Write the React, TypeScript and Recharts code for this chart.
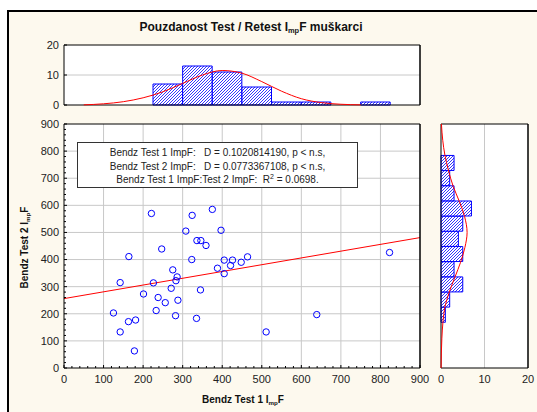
import React from 'react'
import { ComposedChart, LineChart, ScatterChart, Line, Bar, Scatter, XAxis, YAxis, CartesianGrid, ReferenceLine } from 'recharts'

// scatter: Test 1 (x) vs Test 2 (y)
const PTS_X = [221, 375, 324, 308, 397, 336, 346, 359, 247, 164, 323, 405, 426, 464, 448, 421, 388, 405, 275, 286, 283, 226, 142, 271, 345, 201, 238, 288, 256, 233, 125, 282, 335, 181, 163, 142, 511, 639, 178, 823]
const PTS_Y = [570, 585, 563, 505, 508, 470, 470, 452, 439, 411, 400, 398, 398, 410, 390, 378, 368, 348, 362, 336, 322, 314, 315, 294, 288, 273, 260, 250, 241, 212, 203, 193, 183, 177, 171, 133, 133, 197, 63, 426]

// regression line ends
const REG_X = [0, 900]
const REG_Y = [256, 481]

// top histogram (Test 1)
const TOP_MID = [262.5, 337.5, 412.5, 487.5, 562.5, 637.5, 712.5, 787.5]
const TOP_COUNT = [7, 13, 11, 6, 1, 1, 0, 1]
const TOP_FIT_X = [50, 100, 150, 200, 250, 300, 350, 400, 450, 500, 550, 600, 650, 700, 750]
const TOP_FIT_V = [0.05, 0.4, 1.1, 2.4, 4.4, 7.2, 10.0, 11.5, 10.6, 7.8, 4.6, 2.1, 0.8, 0.25, 0.05]

// right histogram (Test 2)
const RIGHT_MID = [196, 252, 308, 364, 420, 476, 532, 588, 644, 700, 756]
const RIGHT_COUNT = [1, 2, 5, 3, 5, 4, 5, 7, 3, 2, 3]
const RIGHT_FIT_Y = [0, 110, 170, 225, 280, 335, 390, 445, 500, 560, 615, 670, 730, 785, 840, 900]
const RIGHT_FIT_V = [0.02, 0.2, 0.45, 0.9, 1.9, 3.2, 4.5, 5.5, 6.0, 5.4, 4.2, 2.8, 1.7, 0.9, 0.4, 0.1]

const AXIS_LABELS = [0, 100, 200, 300, 400, 500, 600, 700, 800, 900]
const GRID = [100, 200, 300, 400, 500, 600, 700, 800]
const MINOR = AXIS_LABELS.flatMap((v, i) => (i === 0 ? [v] : [v - 80, v - 60, v - 40, v - 20, v]))
const TOP_TICKS = [150, 300, 450, 600, 750]
const RIGHT_TICKS = [112, 224, 336, 448, 560, 672, 784]
const COUNT_LABELS = [0, 10, 20]

const points = PTS_X.map((x, i) => ({ x, y: PTS_Y[i] }))
const topData = TOP_MID.map((mid, i) => ({ mid, count: TOP_COUNT[i] }))
const topFit = TOP_FIT_X.map((x, i) => ({ x, v: TOP_FIT_V[i] }))
const rightData = RIGHT_MID.map((mid, i) => ({ mid, count: RIGHT_COUNT[i] }))
const rightFit = RIGHT_FIT_Y.map((y, i) => ({ y, v: RIGHT_FIT_V[i] }))

const FONT = '"Liberation Sans", Arial, Helvetica, sans-serif'
const INK = '#222'
const BG = '#fdf9ee'
const BLUE = '#0000ff'
const RED = '#ff0000'

// ticks drawn inward from the frame, labels outside
function edgeTick(side: string, gap: number, labels: number[], lines = true) {
  return (p: any) => {
    const v = p.payload.value
    const lab = labels.includes(v)
    const len = lab ? 3 : 2
    let ln = null
    if (lines) {
      if (side === 'bottom') ln = <line x1={p.x} x2={p.x} y1={p.y - gap} y2={p.y - gap - len} />
      if (side === 'top') ln = <line x1={p.x} x2={p.x} y1={p.y + gap} y2={p.y + gap + len} />
      if (side === 'left') ln = <line x1={p.x + gap} x2={p.x + gap + len} y1={p.y} y2={p.y} />
      if (side === 'right') ln = <line x1={p.x - gap} x2={p.x - gap - len} y1={p.y} y2={p.y} />
    }
    return (
      <g>
        {ln && React.cloneElement(ln, { stroke: '#000', strokeWidth: 1 })}
        {lab && (side === 'bottom' || side === 'left') && (
          <text
            x={p.x}
            y={p.y}
            dy={side === 'bottom' ? '0.71em' : '0.35em'}
            textAnchor={side === 'bottom' ? 'middle' : 'end'}
            fontSize={11}
            fontFamily={FONT}
            fill={INK}
          >
            {v}
          </text>
        )}
      </g>
    )
  }
}

const Hatch = ({ id }: { id: string }) => (
  <defs>
    <pattern id={id} width="3" height="3" patternUnits="userSpaceOnUse">
      <rect width="3" height="3" fill="#fff" />
      <path d="M-1,1 l2,-2 M0,3 l3,-3 M2,4 l2,-2" stroke={BLUE} strokeWidth="0.8" />
    </pattern>
  </defs>
)

const Ring = (p: any) => <circle cx={p.cx} cy={p.cy} r={3.2} fill="none" stroke={BLUE} strokeWidth={1} />

const Sub = ({ children }: { children: React.ReactNode }) => (
  <span style={{ fontSize: '0.62em', position: 'relative', top: '0.3em' }}>{children}</span>
)

// plot-area insets; axes are 1px thick, so charts with axes get 1px less margin on each side
const MAIN_M = { top: 13, right: 9, bottom: 43, left: 63 }
const TOP_PLOT = { top: 15, right: 10, bottom: 15, left: 64 }
const TOP_M = { top: 14, right: 9, bottom: 14, left: 63 }
const RIGHT_PLOT = { top: 14, right: 9, bottom: 44, left: 11 }
const RIGHT_M = { top: 13, right: 8, bottom: 43, left: 10 }

export default function App() {
  const abs = (left: number, top: number): React.CSSProperties => ({ position: 'absolute', left, top })
  return (
    <div style={{ position: 'absolute', left: 0, top: 0, width: 537, height: 412, overflow: 'hidden', background: '#fff', fontFamily: FONT }}>
      <div style={{ position: 'absolute', left: 7, top: 10, width: 530, height: 402, boxSizing: 'border-box', borderLeft: '2px solid #000', borderTop: '2px solid #000', background: BG }} />

      <div style={{ position: 'absolute', left: 0, top: 19, width: 502, textAlign: 'center', fontWeight: 'bold', fontSize: 12, lineHeight: '16px', color: '#111' }}>
        Pouzdanost Test / Retest I<Sub>mp</Sub>F muškarci
      </div>

      {/* top histogram */}
      <div style={abs(0, 30)}>
        <ComposedChart width={430} height={90} data={topData} margin={TOP_M}>
          <Hatch id="hatchTop" />
          <CartesianGrid fill="#fff" stroke="#c8c8c8" horizontalValues={[10]} vertical={false} />
          <XAxis type="number" dataKey="mid" domain={[0, 900]} ticks={[0, 900]} height={1} tick={false} tickLine={false} axisLine={{ stroke: '#000' }} allowDataOverflow />
          <XAxis xAxisId="t" orientation="top" type="number" domain={[0, 900]} ticks={TOP_TICKS} interval={0} height={1} tickSize={0} tickMargin={0} tickLine={false} axisLine={{ stroke: '#000' }} tick={edgeTick('top', 0, [])} />
          <YAxis type="number" domain={[0, 20]} ticks={COUNT_LABELS} interval={0} width={1} tickSize={5} tickMargin={0} tickLine={false} axisLine={{ stroke: '#000' }} tick={edgeTick('left', 5, COUNT_LABELS)} />
          <YAxis yAxisId="r" orientation="right" type="number" domain={[0, 20]} ticks={[10]} interval={0} width={1} tickSize={0} tickMargin={0} tickLine={false} axisLine={{ stroke: '#000', strokeWidth: 1.5 }} tick={edgeTick('right', 0, [])} />
          <Bar dataKey="count" fill="url(#hatchTop)" stroke={BLUE} strokeWidth={1} barSize={29.5} isAnimationActive={false} />
        </ComposedChart>
      </div>
      <div style={abs(0, 30)}>
        <LineChart width={430} height={90} data={topFit} margin={TOP_PLOT}>
          <XAxis type="number" dataKey="x" domain={[0, 900]} hide />
          <YAxis type="number" domain={[0, 20]} hide />
          <Line dataKey="v" type="monotone" stroke={RED} strokeWidth={1} dot={false} isAnimationActive={false} />
        </LineChart>
      </div>

      {/* main scatter */}
      <div style={abs(0, 110)}>
        <ScatterChart width={430} height={302} margin={MAIN_M}>
          <CartesianGrid fill="#fff" stroke="#c8c8c8" horizontalValues={GRID} verticalValues={GRID} />
          <XAxis type="number" dataKey="x" domain={[0, 900]} ticks={MINOR} interval={0} height={1} tickSize={7} tickMargin={0} tickLine={false} axisLine={{ stroke: '#000' }} tick={edgeTick('bottom', 7, AXIS_LABELS)} allowDataOverflow />
          <XAxis xAxisId="t" orientation="top" type="number" domain={[0, 900]} ticks={MINOR} interval={0} height={1} tickSize={0} tickMargin={0} tickLine={false} axisLine={{ stroke: '#000' }} tick={edgeTick('top', 0, [])} />
          <YAxis type="number" dataKey="y" domain={[0, 900]} ticks={MINOR} interval={0} width={1} tickSize={5} tickMargin={0} tickLine={false} axisLine={{ stroke: '#000' }} tick={edgeTick('left', 5, AXIS_LABELS)} allowDataOverflow />
          <YAxis yAxisId="r" orientation="right" type="number" domain={[0, 900]} ticks={MINOR} interval={0} width={1} tickSize={0} tickMargin={0} tickLine={false} axisLine={{ stroke: '#000', strokeWidth: 1.5 }} tick={edgeTick('right', 0, [])} />
          <ReferenceLine segment={[{ x: REG_X[0], y: REG_Y[0] }, { x: REG_X[1], y: REG_Y[1] }]} stroke={RED} strokeWidth={1} />
          <Scatter data={points} shape={Ring} isAnimationActive={false} />
        </ScatterChart>
      </div>

      {/* right histogram (horizontal bars, value axis runs upward) */}
      <div style={abs(430, 110)}>
        <ComposedChart width={107} height={302} data={rightData} layout="vertical" margin={RIGHT_M}>
          <Hatch id="hatchRight" />
          <CartesianGrid fill="#fff" stroke="#c8c8c8" verticalValues={[10]} horizontal={false} />
          <XAxis type="number" domain={[0, 20]} ticks={COUNT_LABELS} interval={0} height={1} tickSize={7} tickMargin={0} tickLine={false} axisLine={{ stroke: '#000' }} tick={edgeTick('bottom', 7, COUNT_LABELS, false)} />
          <XAxis xAxisId="t" orientation="top" type="number" domain={[0, 20]} ticks={[10]} interval={0} height={1} tickSize={0} tickMargin={0} tickLine={false} axisLine={{ stroke: '#000' }} tick={edgeTick('top', 0, [])} />
          <YAxis type="number" dataKey="mid" domain={[0, 900]} ticks={[0, 900]} reversed width={1} tick={false} tickLine={false} axisLine={{ stroke: '#000' }} allowDataOverflow />
          <YAxis yAxisId="r" orientation="right" type="number" domain={[0, 900]} ticks={RIGHT_TICKS} reversed interval={0} width={1} tickSize={0} tickMargin={0} tickLine={false} axisLine={{ stroke: '#000', strokeWidth: 1.5 }} tick={edgeTick('right', 0, [])} />
          <Bar dataKey="count" fill="url(#hatchRight)" stroke={BLUE} strokeWidth={1} barSize={15} isAnimationActive={false} />
        </ComposedChart>
      </div>
      <div style={abs(430, 110)}>
        <LineChart width={107} height={302} data={rightFit} layout="vertical" margin={RIGHT_PLOT}>
          <XAxis type="number" domain={[0, 20]} hide />
          <YAxis type="number" dataKey="y" domain={[0, 900]} reversed hide />
          <Line dataKey="v" type="monotone" stroke={RED} strokeWidth={1} dot={false} isAnimationActive={false} />
        </LineChart>
      </div>

      {/* stats box */}
      <div style={{ position: 'absolute', left: 77, top: 142, width: 281, height: 46, boxSizing: 'border-box', border: '1px solid #333', background: '#fff', fontSize: 10, lineHeight: '13.5px', textAlign: 'center', color: INK, paddingTop: 3, whiteSpace: 'pre' }}>
        <div>Bendz Test 1 ImpF:   D = 0.1020814190, p &lt; n.s,</div>
        <div>Bendz Test 2 ImpF:   D = 0.0773367108, p &lt; n.s,</div>
        <div>
          Bendz Test 1 ImpF:Test 2 ImpF:  R<span style={{ fontSize: 7, position: 'relative', top: -4 }}>2</span> = 0.0698.
        </div>
      </div>

      {/* axis titles */}
      <div style={{ position: 'absolute', left: 183, top: 393, width: 120, textAlign: 'center', fontWeight: 'bold', fontSize: 10, lineHeight: '14px', color: '#111' }}>
        Bendz Test 1 I<Sub>mp</Sub>F
      </div>
      <div style={{ position: 'absolute', left: -35, top: 240, width: 120, textAlign: 'center', fontWeight: 'bold', fontSize: 10, lineHeight: '14px', color: '#111', transform: 'rotate(-90deg)' }}>
        Bendz Test 2 I<Sub>mp</Sub>F
      </div>
    </div>
  )
}
